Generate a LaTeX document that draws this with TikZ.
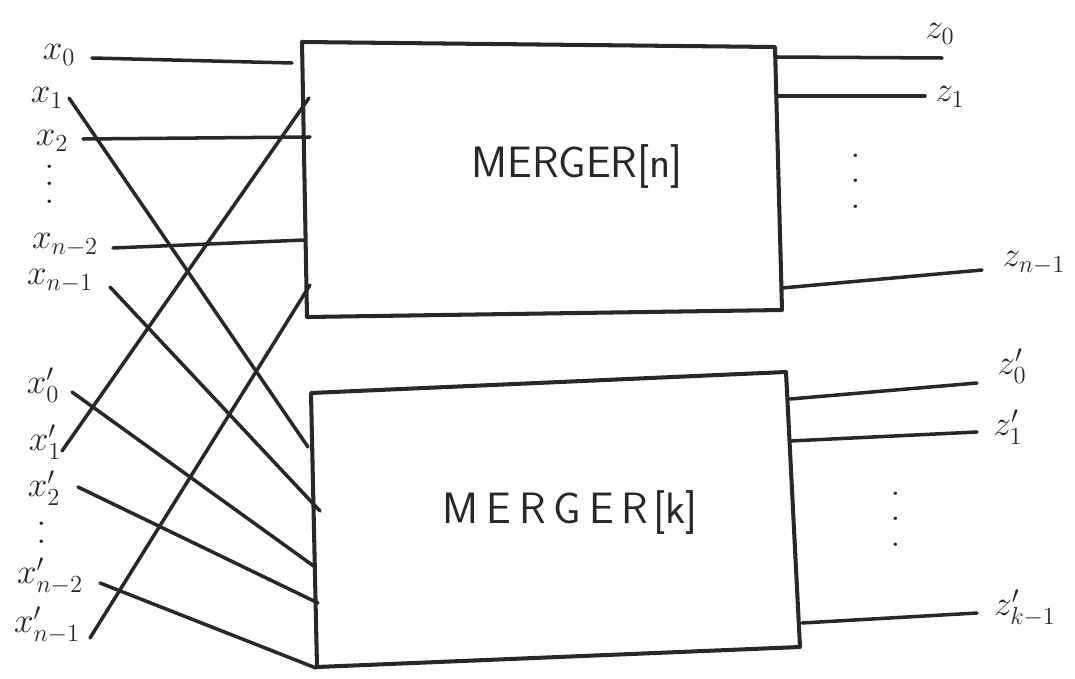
\RequirePackage{fix-cm}
\documentclass[tikz,border=0pt]{standalone}
\definecolor{inkc}{RGB}{40,40,40}
\newcommand\threedots[1]{\vbox{\baselineskip=#1\lineskiplimit=0pt\hbox{.}\hbox{.}\hbox{.}}}
\newcommand\twodots[1]{\vbox{\baselineskip=#1\lineskiplimit=0pt\hbox{.}\hbox{.}}}
\begin{document}
\begin{tikzpicture}[x=0.02cm,y=-0.02cm,
  ink/.style={line width=2pt, draw=inkc, line cap=round},
  boxline/.style={line width=2.3pt, draw=inkc, line join=round},
  lab/.style={text=inkc, inner sep=0pt, font=\fontsize{20}{24}\selectfont},
  dotlab/.style={text=inkc, inner sep=0pt, font=\fontsize{24}{28}\selectfont},
  ttl/.style={text=inkc, inner sep=0pt, font=\fontsize{25}{30}\selectfont\sffamily}]
\useasboundingbox (0,0) rectangle (1075,679);
\fill[white] (0,0) rectangle (1075,679);

% boxes
\coordinate (A1) at (302,42); \coordinate (A2) at (775,47);
\coordinate (A3) at (782,310); \coordinate (A4) at (307,317);
\coordinate (B1) at (311,393); \coordinate (B2) at (786,372);
\coordinate (B3) at (800,647); \coordinate (B4) at (317,667);
\draw[boxline] (A1) -- (A2) -- (A3) -- (A4) -- cycle;
\draw[boxline] (B1) -- (B2) -- (B3) -- (B4) -- cycle;
\node[ttl] (m1) at (577,167) {MERGER[n]};
\node[ttl] (m2) at (570,513) {M\hspace{0.16cm}E\hspace{0.16cm}R\hspace{0.16cm}G\hspace{0.16cm}E\hspace{0.16cm}R\hspace{0.1cm}[k]};

% left labels
\node[lab] (x0) at (59,55) {$x_0$};
\node[lab] (x1) at (47,98) {$x_1$};
\node[lab] (x2) at (52,141) {$x_2$};
\node[dotlab] (dtl) at (50,184) {\threedots{10pt}};
\node[lab] (xn2) at (65,245) {$x_{n-2}$};
\node[lab] (xn1) at (60,281) {$x_{n-1}$};
\node[lab] (y0) at (43,385) {$x'_0$};
\node[lab] (y1) at (45,442) {$x'_1$};
\node[lab] (y2) at (44,488) {$x'_2$};
\node[dotlab] (dbl) at (42,533) {\twodots{10pt}};
\node[lab] (yn2) at (50,576) {$x'_{n-2}$};
\node[lab] (yn1) at (47,625) {$x'_{n-1}$};

% right labels
\node[lab] (z0) at (940,34) {$z_0$};
\node[lab] (z1) at (950,97) {$z_1$};
\node[dotlab] (dtr) at (856,181) {\threedots{14.5pt}};
\node[lab] (zn1) at (1034,263) {$z_{n-1}$};
\node[lab] (w0) at (1012,366) {$z'_0$};
\node[lab] (w1) at (1008,427) {$z'_1$};
\node[dotlab] (dbr) at (896,519) {\threedots{14.5pt}};
\node[lab] (wk1) at (1025,608) {$z'_{k-1}$};

% line ends
\coordinate (x0a) at (92,58);   \coordinate (x0b) at (292,63);
\coordinate (x2a) at (83,139);  \coordinate (x2b) at (310,137);
\coordinate (xn2a) at (113,248); \coordinate (xn2b) at (305,240);
\coordinate (y1a) at (62,451);  \coordinate (y1b) at (309,98);
\coordinate (yn1a) at (90,638); \coordinate (yn1b) at (310,285);
\coordinate (x1a) at (69,98);   \coordinate (x1b) at (308,447);
\coordinate (xn1a) at (110,287); \coordinate (xn1b) at (320,511);
\coordinate (y0a) at (72,392);  \coordinate (y0b) at (315,567);
\coordinate (y2a) at (78,487);  \coordinate (y2b) at (318,603);
\coordinate (yn2a) at (100,583); \coordinate (yn2b) at (316,668);

\coordinate (z0a) at (777,57);  \coordinate (z0b) at (942,58);
\coordinate (z1a) at (778,96);  \coordinate (z1b) at (925,96);
\coordinate (zn1a) at (782,288); \coordinate (zn1b) at (982,270);
\coordinate (w0a) at (790,399); \coordinate (w0b) at (977,383);
\coordinate (w1a) at (790,441); \coordinate (w1b) at (977,432);
\coordinate (wk1a) at (802,623); \coordinate (wk1b) at (977,613);

% connectors
\draw[ink] (x0a) -- (x0b);
\draw[ink] (x2a) -- (x2b);
\draw[ink] (xn2a) -- (xn2b);
\draw[ink] (y1a) -- (y1b);
\draw[ink] (yn1a) -- (yn1b);
\draw[ink] (x1a) -- (x1b);
\draw[ink] (xn1a) -- (xn1b);
\draw[ink] (y0a) -- (y0b);
\draw[ink] (y2a) -- (y2b);
\draw[ink] (yn2a) -- (yn2b);
\draw[ink] (z0a) -- (z0b);
\draw[ink] (z1a) -- (z1b);
\draw[ink] (zn1a) -- (zn1b);
\draw[ink] (w0a) -- (w0b);
\draw[ink] (w1a) -- (w1b);
\draw[ink] (wk1a) -- (wk1b);
\end{tikzpicture}
\end{document}
